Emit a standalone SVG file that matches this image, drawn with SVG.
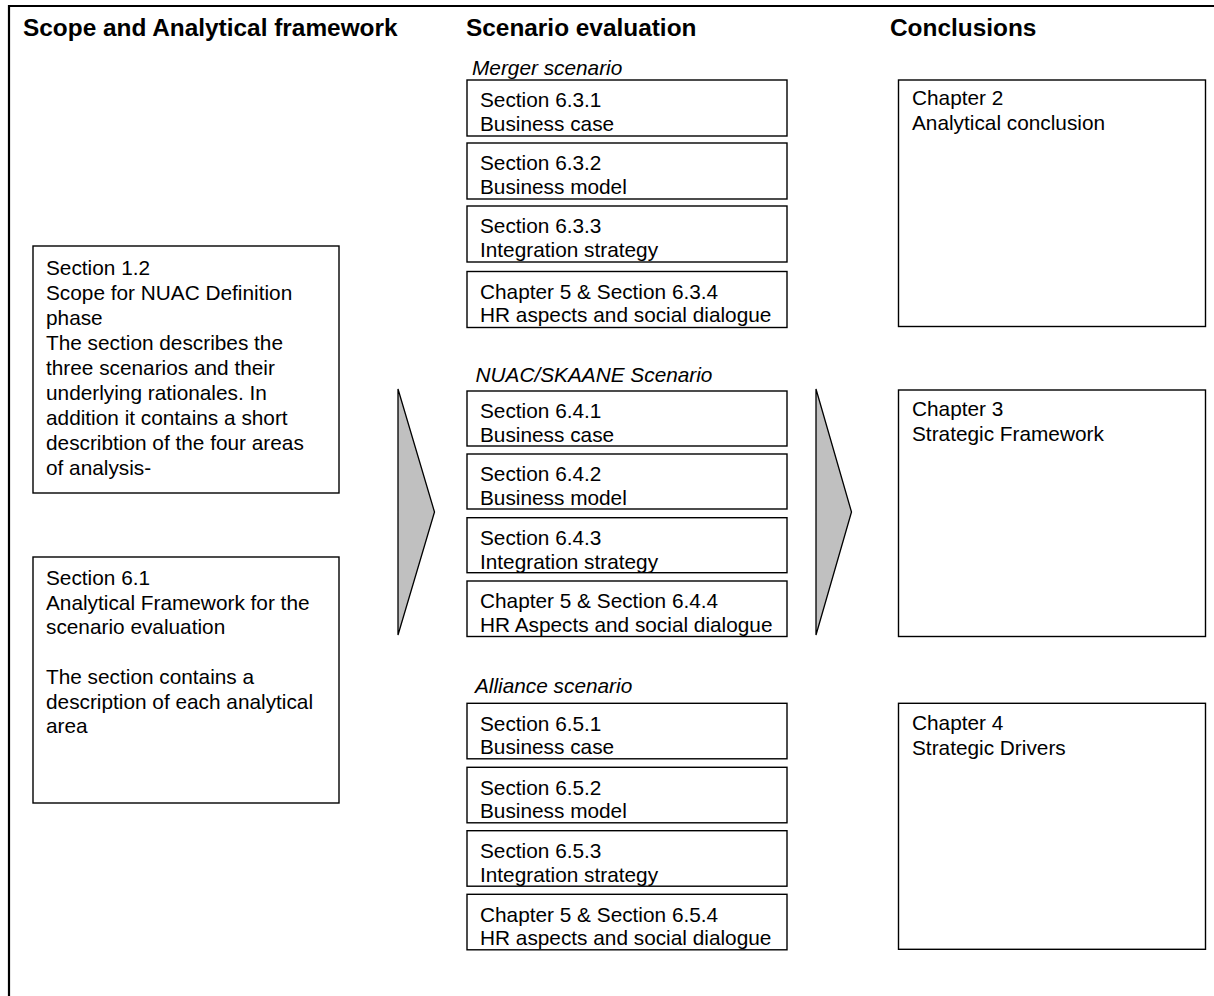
<svg xmlns="http://www.w3.org/2000/svg" width="1214" height="996" viewBox="0 0 1214 996">
  <style>
    .frame { fill: none; stroke: #000; stroke-width: 2.2; }
    .box { fill: #fff; stroke: #000; stroke-width: 1.4; }
    .chev { fill: #c0c0c0; stroke: #000; stroke-width: 1.3; stroke-linejoin: miter; }
    .head { font-family: "Liberation Sans", Arial, sans-serif; font-size: 24.4px; font-weight: bold; fill: #000; }
    .txt { font-family: "Liberation Sans", Arial, sans-serif; font-size: 20.8px; fill: #000; }
    .lbl { font-family: "Liberation Sans", Arial, sans-serif; font-size: 20.8px; font-style: italic; fill: #000; }
  </style>

  <rect width="1214" height="996" fill="#fff"/>
  <!-- outer frame: top and left rule only -->
  <path class="frame" d="M9,996 V6 H1214"/>

  <!-- column headings -->
  <text class="head" x="23" y="36">Scope and Analytical framework</text>
  <text class="head" x="466" y="36">Scenario evaluation</text>
  <text class="head" x="890" y="36">Conclusions</text>

  <!-- left column -->
  <g id="scope-1-2">
    <rect class="box" x="33" y="246" width="306" height="247"/>
    <text class="txt" x="46" y="274.5">
      <tspan x="46">Section 1.2</tspan>
      <tspan x="46" dy="25">Scope for NUAC Definition</tspan>
      <tspan x="46" dy="25">phase</tspan>
      <tspan x="46" dy="25">The section describes the</tspan>
      <tspan x="46" dy="25">three scenarios and their</tspan>
      <tspan x="46" dy="25">underlying rationales. In</tspan>
      <tspan x="46" dy="25">addition it contains a short</tspan>
      <tspan x="46" dy="25">describtion of the four areas</tspan>
      <tspan x="46" dy="25">of analysis-</tspan>
    </text>
  </g>
  <g id="framework-6-1">
    <rect class="box" x="33" y="557" width="306" height="246"/>
    <text class="txt" x="46" y="585">
      <tspan x="46">Section 6.1</tspan>
      <tspan x="46" dy="24.7">Analytical Framework for the</tspan>
      <tspan x="46" dy="24.7">scenario evaluation</tspan>
      <tspan x="46" dy="49.4">The section contains a</tspan>
      <tspan x="46" dy="24.7">description of each analytical</tspan>
      <tspan x="46" dy="24.7">area</tspan>
    </text>
  </g>

  <!-- flow chevrons -->
  <g id="connectors">
    <polygon class="chev" points="398,389 434.5,512 398,635"/>
    <polygon class="chev" points="816,389 851.5,512 816,635"/>
  </g>

  <!-- merger scenario -->
  <g id="merger-scenario">
    <text class="lbl" x="472" y="75">Merger scenario</text>
    <g id="s631">
      <rect class="box" x="467" y="80" width="320" height="56"/>
      <text class="txt" x="480" y="107">Section 6.3.1<tspan x="480" dy="23.5">Business case</tspan></text>
    </g>
    <g id="s632">
      <rect class="box" x="467" y="143" width="320" height="56"/>
      <text class="txt" x="480" y="170">Section 6.3.2<tspan x="480" dy="23.5">Business model</tspan></text>
    </g>
    <g id="s633">
      <rect class="box" x="467" y="206" width="320" height="56"/>
      <text class="txt" x="480" y="233">Section 6.3.3<tspan x="480" dy="23.5">Integration strategy</tspan></text>
    </g>
    <g id="s634">
      <rect class="box" x="467" y="271.5" width="320" height="56"/>
      <text class="txt" x="480" y="298.5">Chapter 5 &amp; Section 6.3.4<tspan x="480" dy="23.5">HR aspects and social dialogue</tspan></text>
    </g>
  </g>

  <!-- NUAC/SKAANE scenario -->
  <g id="nuac-scenario">
    <text class="lbl" x="475.5" y="381.5">NUAC/SKAANE Scenario</text>
    <g id="s641">
      <rect class="box" x="467" y="391" width="320" height="55"/>
      <text class="txt" x="480" y="418.3">Section 6.4.1<tspan x="480" dy="23.5">Business case</tspan></text>
    </g>
    <g id="s642">
      <rect class="box" x="467" y="454" width="320" height="55"/>
      <text class="txt" x="480" y="481.3">Section 6.4.2<tspan x="480" dy="23.5">Business model</tspan></text>
    </g>
    <g id="s643">
      <rect class="box" x="467" y="517.7" width="320" height="55"/>
      <text class="txt" x="480" y="545">Section 6.4.3<tspan x="480" dy="23.5">Integration strategy</tspan></text>
    </g>
    <g id="s644">
      <rect class="box" x="467" y="581" width="320" height="55.5"/>
      <text class="txt" x="480" y="608.3">Chapter 5 &amp; Section 6.4.4<tspan x="480" dy="23.5">HR Aspects and social dialogue</tspan></text>
    </g>
  </g>

  <!-- alliance scenario -->
  <g id="alliance-scenario">
    <text class="lbl" x="475" y="693.3">Alliance scenario</text>
    <g id="s651">
      <rect class="box" x="467" y="703.3" width="320" height="55.5"/>
      <text class="txt" x="480" y="730.7">Section 6.5.1<tspan x="480" dy="23.5">Business case</tspan></text>
    </g>
    <g id="s652">
      <rect class="box" x="467" y="767.3" width="320" height="55.5"/>
      <text class="txt" x="480" y="794.5">Section 6.5.2<tspan x="480" dy="23.5">Business model</tspan></text>
    </g>
    <g id="s653">
      <rect class="box" x="467" y="830.7" width="320" height="55.5"/>
      <text class="txt" x="480" y="858">Section 6.5.3<tspan x="480" dy="23.5">Integration strategy</tspan></text>
    </g>
    <g id="s654">
      <rect class="box" x="467" y="894.3" width="320" height="55.5"/>
      <text class="txt" x="480" y="921.5">Chapter 5 &amp; Section 6.5.4<tspan x="480" dy="23.5">HR aspects and social dialogue</tspan></text>
    </g>
  </g>

  <!-- conclusions column -->
  <g id="chapter-2">
    <rect class="box" x="898.5" y="80" width="307" height="246.5"/>
    <text class="txt" x="912" y="105">Chapter 2<tspan x="912" dy="25">Analytical conclusion</tspan></text>
  </g>
  <g id="chapter-3">
    <rect class="box" x="898.5" y="390" width="307" height="246.5"/>
    <text class="txt" x="912" y="416">Chapter 3<tspan x="912" dy="25">Strategic Framework</tspan></text>
  </g>
  <g id="chapter-4">
    <rect class="box" x="898.5" y="703.3" width="307" height="246"/>
    <text class="txt" x="912" y="730">Chapter 4<tspan x="912" dy="25">Strategic Drivers</tspan></text>
  </g>
</svg>
